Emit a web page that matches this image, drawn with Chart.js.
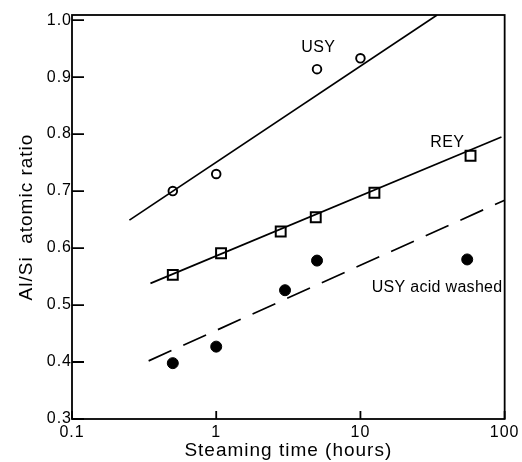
<!DOCTYPE html>
<html>
<head>
<meta charset="utf-8">
<script src="https://cdn.jsdelivr.net/npm/chart.js@4/dist/chart.umd.min.js"></script>
<style>
  html, body { margin: 0; padding: 0; background: #fff; }
  #wrap { width: 522px; height: 462px; }
</style>
</head>
<body>
<div id="wrap"><canvas id="c" width="522" height="462"></canvas></div>
<script>
// ---- data ----
const xTicks = [0.1, 1, 10, 100];
const yTicks = [0.3, 0.4, 0.5, 0.6, 0.7, 0.8, 0.9, 1.0];

const usyTime  = [0.5, 1.0, 5.0, 10];
const usyRatio = [0.700, 0.730, 0.914, 0.933];

const reyTime  = [0.5, 1.08, 2.8, 4.9, 12.5, 58];
const reyRatio = [0.553, 0.591, 0.629, 0.654, 0.697, 0.762];

const acidTime  = [0.5, 1.0, 3.0, 5.0, 55];
const acidRatio = [0.398, 0.427, 0.526, 0.578, 0.580];

// fitted trend lines (end points)
const usyLineTime   = [0.25, 34];
const usyLineRatio  = [0.649, 1.009];
const reyLineTime   = [0.35, 95];
const reyLineRatio  = [0.538, 0.795];
const acidLineTime  = [0.34, 100];
const acidLineRatio = [0.402, 0.684];

// text annotations (data coordinates)
const labelText = ['USY', 'REY', 'USY acid washed'];
const labelTime = [5.1, 40, 34];
const labelRatio = [0.952, 0.785, 0.530];

const FONT = '"Liberation Sans", Arial, Helvetica, sans-serif';
const INK = '#000';
const toXY = (xs, ys) => xs.map((x, i) => ({ x: x, y: ys[i] }));

const decorPlugin = {
  id: 'decor',
  beforeDraw(chart) {
    chart.ctx.letterSpacing = '1px';
  },
  afterDraw(chart) {
    const ctx = chart.ctx;
    const xs = chart.scales.x, ys = chart.scales.y;
    const a = chart.chartArea;
    ctx.save();
    ctx.letterSpacing = '0px';
    ctx.strokeStyle = INK;
    ctx.lineWidth = 1.8;
    ctx.strokeRect(a.left, a.top, a.right - a.left, a.bottom - a.top);
    // inward tick marks
    ctx.beginPath();
    yTicks.forEach(v => {
      const py = ys.getPixelForValue(v);
      ctx.moveTo(a.left, py);
      ctx.lineTo(a.left + 12, py);
    });
    xTicks.forEach(v => {
      const px = xs.getPixelForValue(v);
      ctx.moveTo(px, a.bottom);
      ctx.lineTo(px, a.bottom - 8);
    });
    ctx.stroke();
    // annotations
    ctx.fillStyle = INK;
    ctx.font = '16px ' + FONT;
    ctx.textAlign = 'center';
    ctx.textBaseline = 'middle';
    ctx.letterSpacing = '0.3px';
    labelText.forEach((t, i) => {
      ctx.fillText(t, xs.getPixelForValue(labelTime[i]), ys.getPixelForValue(labelRatio[i]));
    });
    ctx.restore();
  }
};

new Chart(document.getElementById('c'), {
  type: 'scatter',
  data: {
    datasets: [
      { label: 'USY fit', data: toXY(usyLineTime, usyLineRatio), showLine: true,
        borderColor: INK, borderWidth: 1.7, pointRadius: 0, fill: false },
      { label: 'REY fit', data: toXY(reyLineTime, reyLineRatio), showLine: true,
        borderColor: INK, borderWidth: 1.7, pointRadius: 0, fill: false },
      { label: 'USY acid washed fit', data: toXY(acidLineTime, acidLineRatio), showLine: true,
        borderColor: INK, borderWidth: 1.7, borderDash: [25, 13], pointRadius: 0, fill: false },
      { label: 'USY', data: toXY(usyTime, usyRatio), pointStyle: 'circle', pointRadius: 4.3,
        borderColor: INK, borderWidth: 1.9, backgroundColor: 'rgba(0,0,0,0)' },
      { label: 'REY', data: toXY(reyTime, reyRatio), pointStyle: 'rect', pointRadius: 7,
        borderColor: INK, borderWidth: 2, backgroundColor: 'rgba(0,0,0,0)' },
      { label: 'USY acid washed', data: toXY(acidTime, acidRatio), pointStyle: 'circle', pointRadius: 5.5,
        borderColor: INK, borderWidth: 1, backgroundColor: INK }
    ]
  },
  options: {
    responsive: false,
    animation: false,
    layout: { padding: { top: 15, right: 16, bottom: 0, left: 0 } },
    plugins: { legend: { display: false }, tooltip: { enabled: false } },
    scales: {
      x: {
        type: 'logarithmic', min: 0.1, max: 100,
        afterBuildTicks: s => { s.ticks = xTicks.map(v => ({ value: v })); },
        afterFit: s => { s.height = 43; },
        grid: { display: false, drawTicks: false },
        border: { display: false },
        ticks: { color: INK, padding: 4, maxRotation: 0, autoSkip: false,
                 font: { family: FONT, size: 16 },
                 callback: v => (v < 1 ? v.toFixed(1) : String(Math.round(v))) },
        title: { display: true, text: 'Steaming time (hours)', color: INK,
                 font: { family: FONT, size: 19 }, padding: { top: 0, bottom: 0 } }
      },
      y: {
        min: 0.3, max: 1.009,
        afterBuildTicks: s => { s.ticks = yTicks.map(v => ({ value: v })); },
        afterFit: s => { s.width = 72; },
        grid: { display: false, drawTicks: false },
        border: { display: false },
        ticks: { color: INK, padding: 0, autoSkip: false,
                 font: { family: FONT, size: 16 },
                 callback: v => v.toFixed(1) },
        title: { display: true, text: 'Al/Si  atomic ratio', color: INK,
                 font: { family: FONT, size: 19 }, padding: { top: 15, bottom: 0 } }
      }
    }
  },
  plugins: [decorPlugin]
});
</script>
</body>
</html>
